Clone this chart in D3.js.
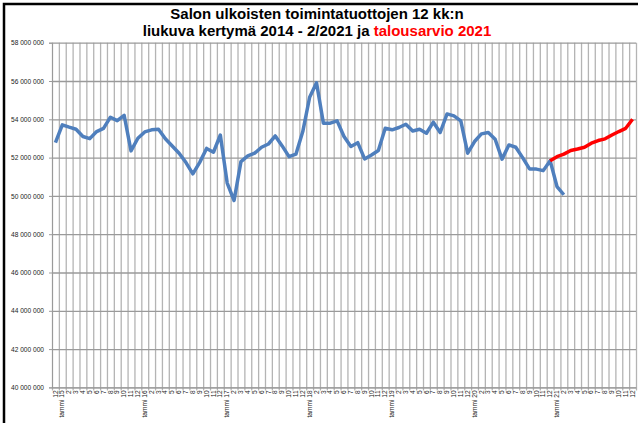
<!DOCTYPE html>
<head>
  <meta charset="utf-8" />
  <script src="https://d3js.org/d3.v7.min.js"></script>
  <style>
    body {
      margin: 0;
      background: #fff;
    }
    text {
      font-family: "Liberation Sans", Arial, sans-serif;
    }
  </style>
</head>

<body>
  <script>
    // kuukaudet ja vuodet (ensimmäinen piste 12/2014)
    var monthLabels = ["tammi", "2", "3", "4", "5", "6", "7", "8", "9", "10", "11", "12"];
    var years = ["15", "16", "17", "18", "19", "20", "21"];

    // toteuma, milj. euroa, 12/2014 - 2/2021
    var toteuma = [
      52.78, 53.71, 53.59, 53.48, 53.10, 52.99, 53.36, 53.53, 54.11, 53.93, 54.21, 52.35,
      53.01, 53.34, 53.45, 53.48, 52.98, 52.61, 52.23, 51.74, 51.15, 51.75, 52.48, 52.28,
      53.18, 50.67, 49.76, 51.79, 52.09, 52.23, 52.54, 52.71, 53.13, 52.61, 52.05, 52.18,
      53.36, 55.15, 55.91, 53.80, 53.80, 53.92, 53.10, 52.58, 52.78, 51.93, 52.14, 52.37,
      53.53, 53.45, 53.57, 53.74, 53.39, 53.48, 53.27, 53.85, 53.31, 54.28, 54.18, 53.92,
      52.23, 52.84, 53.24, 53.31, 52.96, 51.92, 52.66, 52.54, 52.00, 51.41, 51.40, 51.32,
      51.84, 50.49, 50.06
    ];
    // talousarvio 2021, alkaa 12/2020
    var talousarvio = [51.84, 52.05, 52.18, 52.37, 52.45, 52.54, 52.75, 52.89, 52.98, 53.18, 53.36, 53.53, 54.00];
    var budjettiAlku = 72;

    var yTicks = [40, 42, 44, 46, 48, 50, 52, 54, 56, 58];

    var categories = ["12"];
    years.forEach(function (yy) {
      monthLabels.forEach(function (m) {
        categories.push(m == "tammi" ? "tammi " + yy : m);
      });
    });

    var width = 638,
      height = 423;
    var mLeft = 52,
      mRight = 636,
      mTop = 42.7,
      mBottom = 387.4;

    var svg = d3
      .select("body")
      .append("svg")
      .attr("width", width)
      .attr("height", height);

    // kehys
    svg
      .append("path")
      .attr("d", "M4," + height + "V4H" + width)
      .attr("fill", "none")
      .attr("stroke", "#000")
      .attr("stroke-width", 2.5);

    // otsikko
    var title = svg
      .append("text")
      .attr("text-anchor", "middle")
      .attr("font-weight", "bold")
      .attr("font-size", 15)
      .attr("fill", "#000");
    title.append("tspan").attr("x", 317).attr("y", 19).text("Salon ulkoisten toimintatuottojen 12 kk:n");
    var t2 = title.append("tspan").attr("x", 317).attr("y", 36);
    t2.append("tspan").text("liukuva kertymä 2014 - 2/2021 ja ");
    t2.append("tspan").attr("fill", "#ff0000").text("talousarvio 2021");

    var x = d3.scaleBand().domain(d3.range(categories.length)).range([mLeft, mRight]);
    var xEdge = d3.scaleLinear().domain([0, categories.length]).range([mLeft, mRight]);
    var y = d3.scaleLinear().domain([40, 58]).range([mBottom, mTop]);

    // pystyviivat
    svg
      .append("g")
      .attr("transform", "translate(0," + mBottom + ")")
      .call(d3.axisBottom(xEdge).tickValues(d3.range(categories.length + 1)).tickSize(-(mBottom - mTop)).tickFormat(""))
      .call(function (g) {
        g.select(".domain").remove();
        g.selectAll("line").attr("stroke", "#b4b4b4").attr("stroke-width", 1.3).attr("y1", 3);
      });

    // vaakaviivat
    svg
      .append("g")
      .attr("transform", "translate(" + mLeft + ",0)")
      .call(d3.axisLeft(y).tickValues(yTicks).tickSize(-(mRight - mLeft)).tickFormat(""))
      .call(function (g) {
        g.select(".domain").remove();
        g.selectAll("line").attr("stroke", "#9a9a9a").attr("stroke-width", 1.3);
      });

    var fmt = function (v) {
      return d3.format(",")(Math.round(v * 1e6)).replace(/,/g, " ");
    };

    // y-akseli
    svg
      .append("g")
      .attr("transform", "translate(" + mLeft + ",0)")
      .call(d3.axisLeft(y).tickValues(yTicks).tickSize(3).tickPadding(5).tickFormat(fmt))
      .call(function (g) {
        g.select(".domain").attr("stroke", "#9a9a9a");
        g.selectAll("line").attr("stroke", "#9a9a9a");
        g.selectAll("text")
          .attr("font-size", 6.6)
          .attr("fill", "#222")
          .attr("font-family", "Liberation Sans, Arial, sans-serif");
      });

    // x-akseli
    svg
      .append("g")
      .attr("transform", "translate(0," + mBottom + ")")
      .call(d3.axisBottom(x).tickSize(0).tickFormat(function (i) { return categories[i]; }))
      .call(function (g) {
        g.select(".domain").attr("stroke", "#9a9a9a");
        g.selectAll("text")
          .attr("font-size", 6.6)
          .attr("fill", "#222")
          .attr("font-family", "Liberation Sans, Arial, sans-serif")
          .attr("text-anchor", "end")
          .attr("dy", "0.32em")
          .attr("transform", "rotate(-90)")
          .attr("x", -3)
          .attr("y", 0);
      });

    var line = d3
      .line()
      .x(function (d) { return x(d.i) + x.bandwidth() / 2; })
      .y(function (d) { return y(d.v); });

    svg
      .append("path")
      .datum(toteuma.map(function (v, i) { return { i: i, v: v }; }))
      .attr("fill", "none")
      .attr("stroke", "#4f7fbd")
      .attr("stroke-width", 3.5)
      .attr("stroke-linejoin", "round")
      .attr("d", line);

    svg
      .append("path")
      .datum(talousarvio.map(function (v, i) { return { i: i + budjettiAlku, v: v }; }))
      .attr("fill", "none")
      .attr("stroke", "#ff0000")
      .attr("stroke-width", 3.5)
      .attr("stroke-linejoin", "round")
      .attr("d", line);
  </script>
</body>
